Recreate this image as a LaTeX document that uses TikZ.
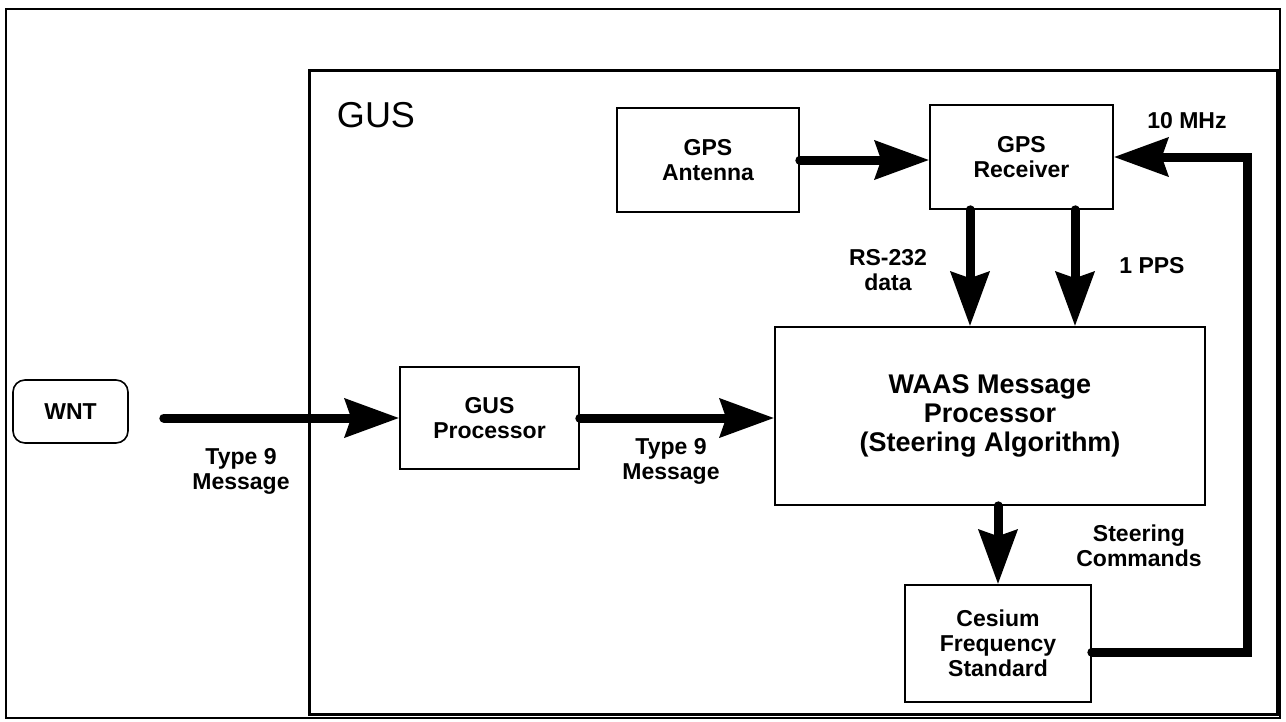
\documentclass[tikz,border=0pt]{standalone}
\usepackage{fontspec}
\setmainfont{Liberation Sans}
\usetikzlibrary{arrows.meta}

\begin{document}
\begin{tikzpicture}[x=1pt,y=-1pt,
  txt/.style={font=\fontsize{23}{25}\selectfont\bfseries, align=center, inner sep=0pt},
  blk/.style={txt, draw, line width=1.6pt},
  flow/.style={line width=9pt, line cap=round,
    -{Stealth[length=54pt,width=38pt,inset=6pt]}},
]
\useasboundingbox (0,0) rectangle (1286,721);

% frames
\draw[line width=2pt] (6,9) rectangle (1280,718);
\draw[line width=3pt] (309,70) rectangle (1277,714);
\node[font=\fontsize{36}{38}\selectfont, inner sep=0pt] (gus) at (376,115) {GUS};

% blocks
\node[blk, rounded corners=12pt, minimum width=115pt, minimum height=63pt] (wnt) at (70.5,411.5) {WNT};
\node[blk, minimum width=179pt, minimum height=102pt] (gusp) at (489.5,418) {GUS\\Processor};
\node[blk, minimum width=430pt, minimum height=178pt,
      font=\fontsize{27}{29}\selectfont\bfseries] (waas) at (990,416)
      {WAAS Message\\Processor\\(Steering Algorithm)};
\node[blk, minimum width=182pt, minimum height=104pt] (ant) at (708,160) {GPS\\Antenna};
\node[blk, minimum width=183pt, minimum height=104pt] (rcv) at (1021.5,157) {GPS\\Receiver};
\node[blk, minimum width=186pt, minimum height=117pt] (cs) at (998,643.5) {Cesium\\Frequency\\Standard};

\coordinate (loop) at (1247,157);

% connectors
\draw[flow] ([xshift=35pt,yshift=-6.5pt]wnt.east) -- (gusp.west);
\draw[flow] (gusp.east) -- (gusp.east -| waas.west);
\draw[flow] (ant.east) -- (ant.east -| rcv.west);
\draw[flow] ([xshift=-51.5pt]rcv.south) -- ([xshift=-51.5pt]rcv.south |- waas.north);
\draw[flow] ([xshift=53.5pt]rcv.south) -- ([xshift=53.5pt]rcv.south |- waas.north);
\draw[flow] (cs.north |- waas.south) -- (cs.north);
\draw[flow] ([yshift=-8.5pt]cs.east) -| (loop) -- (rcv.east);

% labels
\node[txt] (l1) at (241,471) {Type 9\\Message};
\node[txt] (l2) at (671,461) {Type 9\\Message};
\node[txt] (l3) at (888,270) {RS-232\\data};
\node[txt] (l4) at (1152,266) {1 PPS};
\node[txt] (l5) at (1187,121) {10 MHz};
\node[txt] (l6) at (1139,546) {Steering\\Commands};
\end{tikzpicture}
\end{document}
